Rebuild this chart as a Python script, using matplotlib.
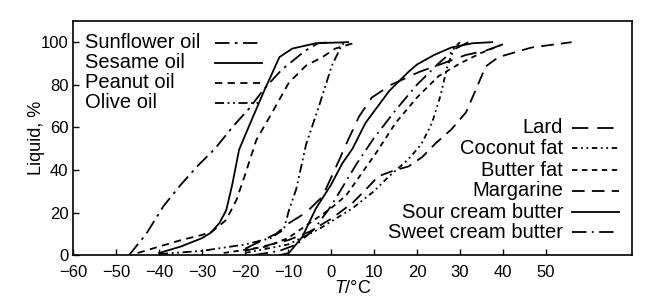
import matplotlib
matplotlib.use("Agg")
import matplotlib.pyplot as plt
from matplotlib.lines import Line2D

plt.rcParams['font.family'] = ['Liberation Sans', 'DejaVu Sans']
plt.rcParams['mathtext.fontset'] = 'custom'
plt.rcParams['mathtext.it'] = 'Liberation Sans:italic'
plt.rcParams['mathtext.rm'] = 'Liberation Sans'

# oils
sunflower_t = [-47, -43, -39, -35, -31, -27, -23, -19, -15.6, -11.5, -6, -3, 0]
sunflower_l = [0, 10, 23, 33, 42, 50, 60, 69, 78, 87, 96, 99.5, 100]
sesame_t = [-40, -35, -30, -28, -26, -24.4, -23, -21.4, -19, -15.6, -12, -9, -3.5, 4]
sesame_l = [1, 4, 8, 10.5, 15, 21, 33, 49.5, 61, 77, 93, 97, 99.5, 100]
peanut_t = [-45, -40, -35, -30, -27.7, -24.4, -22, -19.8, -17.4, -13.7, -9.8, -5.8, -2, 1, 6]
peanut_l = [1, 4, 7, 9.5, 11, 16.5, 26, 39, 54, 67, 81, 89, 93, 97, 100]
olive_t = [-40, -30, -20, -14, -11, -9.8, -8.1, -5.8, -2.8, 0.2, 2.6, 4]
olive_l = [0.5, 2, 5, 8, 12, 21, 31, 52, 70, 89, 99, 100]

# fats
lard_t = [-20, -12.8, -9.8, -5.8, -2, 1.9, 3.5, 6.5, 9.5, 14, 20.5, 26, 31.4, 36, 40]
lard_l = [3, 10, 15, 20, 27.5, 44.7, 52, 65, 74, 80, 86, 90, 94, 96, 99]
coconut_t = [-20, -10, -3, 5, 10, 13.5, 18, 21, 23.5, 25.5, 27, 28.6, 30]
coconut_l = [1, 5, 12, 22, 30, 37, 45, 52, 62, 75, 88, 97, 100]
butterfat_t = [-25, -15, -10, -5, 0, 3.5, 7, 10.5, 15, 20, 25, 30, 35, 40]
butterfat_l = [1, 4, 8, 15, 22, 28, 38, 48, 62, 74, 84, 90, 95, 99]
margarine_t = [-20, -10, -5, 0, 5, 8, 11, 15, 18, 21.2, 24.4, 28, 31.4, 33.7, 36, 39, 46.7, 56]
margarine_l = [2, 7, 11, 17, 24.5, 30.6, 37, 40, 41.6, 46, 52.6, 59, 67, 77.7, 88.6, 93, 97.5, 100]
sour_t = [-12, -9.8, -6.7, -3.5, 0, 2.6, 5, 8, 13.5, 18, 20, 24, 28, 33, 37.5]
sour_l = [0, 1, 8.5, 22, 33, 43, 50, 62, 77, 86, 89.5, 94, 97.5, 99.5, 100]
sweet_t = [-18, -12, -8, -4, 0, 3, 6, 10, 15, 20, 25, 29, 32]
sweet_l = [0, 2, 5, 12, 23, 33, 43, 55, 68, 80, 90, 97, 100]

oil_names = ["Sunflower oil", "Sesame oil", "Peanut oil", "Olive oil"]
fat_names = ["Lard", "Coconut fat", "Butter fat", "Margarine",
             "Sour cream butter", "Sweet cream butter"]

oils = [(sunflower_t, sunflower_l, (0, (8, 3, 1.5, 3))),
        (sesame_t, sesame_l, '-'),
        (peanut_t, peanut_l, (0, (4, 3))),
        (olive_t, olive_l, (0, (5, 2, 1, 2, 1, 2)))]
fats = [(lard_t, lard_l, (0, (9, 5))),
        (coconut_t, coconut_l, (0, (3, 2, 1, 2, 1, 2))),
        (butterfat_t, butterfat_l, (0, (3, 2.5))),
        (margarine_t, margarine_l, (0, (7, 4))),
        (sour_t, sour_l, '-'),
        (sweet_t, sweet_l, (0, (8, 3, 1, 3)))]

fig = plt.figure(figsize=(6.54, 3.07), dpi=100)
ax = fig.add_axes([0.112, 0.169, 0.854, 0.763])

for t, l, ls in oils + fats:
    ax.plot(t, l, color='black', lw=1.3, linestyle=ls)

ax.set_xlim(-60, 70)
ax.set_ylim(0, 110)
ax.set_xticks(range(-60, 60, 10))
ax.set_yticks(range(0, 120, 20))
ax.tick_params(direction='in', length=4, labelsize=12, width=1)
ax.tick_params(axis='x', pad=7)
for s in ax.spines.values():
    s.set_linewidth(1.2)

ax.set_xlabel("$T$/°C", fontsize=13, labelpad=0)
ax.set_ylabel("Liquid, %", fontsize=13, labelpad=-3)

# left legend (oils)
oil_rows = [0.906, 0.821, 0.735, 0.650]
for name, (t, l, ls), y in zip(oil_names, oils, oil_rows):
    ax.text(0.021, y, name, transform=ax.transAxes, fontsize=14.5,
            ha='left', va='center')
    ax.add_line(Line2D([0.254, 0.338], [y, y], transform=ax.transAxes,
                       color='black', lw=1.3, linestyle=ls))

# right legend (fats)
fat_rows = [0.543, 0.457, 0.363, 0.274, 0.184, 0.098]
for name, (t, l, ls), y in zip(fat_names, fats, fat_rows):
    ax.text(0.877, y, name, transform=ax.transAxes, fontsize=14.5,
            ha='right', va='center')
    ax.add_line(Line2D([0.893, 0.978], [y, y], transform=ax.transAxes,
                       color='black', lw=1.3, linestyle=ls))

fig.savefig("out.png", dpi=100)
